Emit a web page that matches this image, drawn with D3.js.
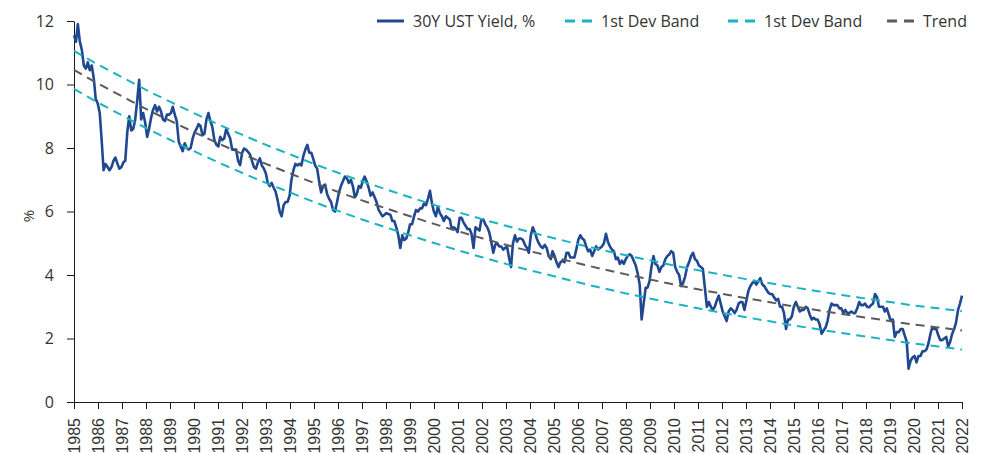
<!DOCTYPE html>
<html>
<head>
<meta charset="utf-8">
<script src="https://cdn.jsdelivr.net/npm/d3@7"></script>
<style>
  body { margin: 0; background: #fff; }
  text { font-family: "Open Sans", sans-serif; }
</style>
</head>
<body>
<svg width="991" height="453"></svg>
<script>
// Monthly 30Y UST yield, Jan 1985 - Jun 2022
const yields = [
  // 1985
  11.55, 11.35, 11.9, 11.35, 11.1, 10.6, 10.5, 10.7, 10.45, 10.6, 10.2, 9.55,
  // 1986
  9.4, 9.1, 8.3, 7.3, 7.5, 7.4, 7.3, 7.4, 7.6, 7.7, 7.5, 7.35,
  // 1987
  7.4, 7.55, 7.6, 8.5, 9.0, 8.55, 8.6, 8.9, 9.5, 10.15, 8.9, 9.1,
  // 1988
  8.8, 8.35, 8.6, 8.95, 9.2, 9.35, 9.15, 9.3, 9.15, 8.9, 8.85, 9.05,
  // 1989
  9.05, 9.1, 9.3, 9.05, 8.85, 8.2, 8.05, 7.9, 8.15, 8.0, 7.95, 8.0,
  // 1990
  8.3, 8.5, 8.6, 8.75, 8.7, 8.4, 8.45, 8.9, 9.1, 8.85, 8.65, 8.25,
  // 1991
  8.1, 8.05, 8.35, 8.25, 8.3, 8.6, 8.45, 8.3, 7.95, 7.95, 7.95, 7.6,
  // 1992
  7.46, 7.85, 7.98, 7.95, 7.88, 7.8, 7.6, 7.4, 7.35, 7.55, 7.67, 7.45,
  // 1993
  7.35, 7.2, 6.9, 6.8, 6.9, 6.75, 6.62, 6.35, 6.0, 5.85, 6.2, 6.3,
  // 1994
  6.3, 6.5, 7.0, 7.3, 7.5, 7.45, 7.5, 7.45, 7.75, 7.95, 8.1, 7.85,
  // 1995
  7.85, 7.65, 7.45, 7.35, 6.95, 6.6, 6.8, 6.85, 6.55, 6.4, 6.3, 6.05,
  // 1996
  6.0, 6.3, 6.6, 6.8, 6.95, 7.1, 7.05, 6.9, 7.0, 6.8, 6.45, 6.55,
  // 1997
  6.8, 6.75, 6.95, 7.1, 6.95, 6.75, 6.5, 6.6, 6.45, 6.3, 6.05, 5.95,
  // 1998
  5.85, 5.9, 5.95, 5.92, 5.9, 5.7, 5.7, 5.5, 5.25, 4.85, 5.25, 5.1,
  // 1999
  5.15, 5.35, 5.6, 5.6, 5.85, 6.05, 6.0, 6.1, 6.1, 6.25, 6.2, 6.4,
  // 2000
  6.65, 6.25, 6.0, 5.85, 6.15, 5.95, 5.85, 5.7, 5.85, 5.8, 5.75, 5.45,
  // 2001
  5.5, 5.45, 5.35, 5.8, 5.8, 5.65, 5.55, 5.45, 5.45, 5.3, 4.85, 5.5,
  // 2002
  5.45, 5.4, 5.75, 5.75, 5.6, 5.5, 5.35, 5.05, 4.7, 4.95, 5.0, 4.9,
  // 2003
  4.9, 4.8, 4.85, 4.9, 4.55, 4.25, 5.0, 5.25, 5.05, 5.15, 5.15, 5.1,
  // 2004
  4.95, 4.85, 4.7, 5.25, 5.5, 5.35, 5.15, 5.0, 4.9, 4.85, 4.95, 4.85,
  // 2005
  4.6, 4.5, 4.75, 4.6, 4.4, 4.25, 4.4, 4.45, 4.4, 4.7, 4.7, 4.55,
  // 2006
  4.55, 4.55, 4.8, 5.1, 5.25, 5.15, 5.1, 4.9, 4.75, 4.8, 4.6, 4.75,
  // 2007
  4.9, 4.8, 4.85, 4.9, 5.0, 5.3, 5.05, 4.9, 4.8, 4.75, 4.5, 4.55,
  // 2008
  4.35, 4.45, 4.35, 4.5, 4.6, 4.65, 4.6, 4.45, 4.3, 4.05, 3.7, 2.6,
  // 2009
  3.1, 3.6, 3.6, 3.8, 4.25, 4.6, 4.35, 4.3, 4.1, 4.25, 4.3, 4.5,
  // 2010
  4.6, 4.65, 4.75, 4.7, 4.25, 4.1, 4.0, 3.65, 3.75, 3.95, 4.25, 4.4,
  // 2011
  4.6, 4.7, 4.5, 4.45, 4.3, 4.25, 4.2, 3.6, 3.0, 3.15, 3.0, 2.9,
  // 2012
  3.0, 3.2, 3.35, 3.1, 2.85, 2.7, 2.55, 2.85, 2.95, 2.9, 2.8, 2.9,
  // 2013
  3.1, 3.15, 3.15, 2.9, 3.2, 3.5, 3.65, 3.75, 3.8, 3.7, 3.8, 3.9,
  // 2014
  3.7, 3.65, 3.55, 3.45, 3.4, 3.4, 3.3, 3.2, 3.25, 3.0, 3.0, 2.8,
  // 2015
  2.3, 2.6, 2.6, 2.7, 3.0, 3.15, 3.0, 2.85, 2.9, 2.9, 3.0, 2.95,
  // 2016
  2.75, 2.6, 2.65, 2.6, 2.6, 2.45, 2.15, 2.25, 2.35, 2.55, 2.9, 3.1,
  // 2017
  3.05, 3.05, 3.05, 2.95, 2.95, 2.8, 2.9, 2.8, 2.8, 2.85, 2.8, 2.8,
  // 2018
  2.95, 3.15, 3.05, 3.05, 3.1, 3.0, 2.98, 3.05, 3.1, 3.4, 3.3, 3.0,
  // 2019
  3.0, 3.0, 2.85, 2.95, 2.75, 2.55, 2.6, 2.05, 2.2, 2.2, 2.3, 2.3,
  // 2020
  2.1, 1.9, 1.05, 1.3, 1.4, 1.45, 1.25, 1.45, 1.45, 1.6, 1.6, 1.65,
  // 2021
  1.85, 2.15, 2.35, 2.3, 2.3, 2.1, 1.95, 1.95, 2.0, 2.05, 1.75, 1.9,
  // 2022
  2.15, 2.3, 2.5, 2.9, 3.1, 3.35
];

const years = [1985, 1986, 1987, 1988, 1989, 1990, 1991, 1992, 1993, 1994,
  1995, 1996, 1997, 1998, 1999, 2000, 2001, 2002, 2003, 2004,
  2005, 2006, 2007, 2008, 2009, 2010, 2011, 2012, 2013, 2014,
  2015, 2016, 2017, 2018, 2019, 2020, 2021, 2022];

// Trend and deviation bands, one value per year label
const trend = [10.46, 10.03, 9.63, 9.23, 8.86, 8.50, 8.15, 7.82, 7.50, 7.20,
  6.90, 6.62, 6.35, 6.10, 5.85, 5.61, 5.38, 5.16, 4.95, 4.75,
  4.56, 4.37, 4.19, 4.02, 3.86, 3.70, 3.55, 3.41, 3.27, 3.14,
  3.01, 2.89, 2.77, 2.66, 2.55, 2.44, 2.35, 2.25];
const upperBand = [11.06, 10.63, 10.23, 9.83, 9.46, 9.10, 8.75, 8.42, 8.10, 7.80,
  7.50, 7.22, 6.95, 6.70, 6.45, 6.21, 5.98, 5.76, 5.55, 5.35,
  5.16, 4.97, 4.79, 4.62, 4.46, 4.30, 4.15, 4.01, 3.87, 3.74,
  3.61, 3.49, 3.37, 3.26, 3.15, 3.04, 2.95, 2.86];
const lowerBand = [9.86, 9.43, 9.03, 8.63, 8.26, 7.90, 7.55, 7.22, 6.90, 6.60,
  6.30, 6.02, 5.75, 5.50, 5.25, 5.01, 4.78, 4.56, 4.35, 4.15,
  3.96, 3.77, 3.59, 3.42, 3.26, 3.10, 2.95, 2.81, 2.67, 2.54,
  2.41, 2.29, 2.17, 2.06, 1.95, 1.84, 1.75, 1.65];

const yTicks = [0, 2, 4, 6, 8, 10, 12];
const legendNames = ["30Y UST Yield, %", "1st Dev Band", "1st Dev Band", "Trend"];

const NAVY = "#1f4890", CYAN = "#19b3c3", GREY = "#5b5b5b";

let svg = d3.select("svg");
const plotLeft = 74, plotRight = 962, plotTop = 21, plotBottom = 402;

// monthly dates for the series
let dates = yields.map((v, i) => new Date(1985, i, 1));

let x = d3.scaleTime()
  .domain(d3.extent(dates))
  .range([plotLeft, plotRight]);

let xYear = d3.scalePoint()
  .domain(years)
  .range([plotLeft, plotRight]);

let y = d3.scaleLinear()
  .domain([0, 12])
  .range([plotBottom, plotTop]);

// Axes
let yAxis = svg.append("g")
  .attr("transform", `translate(${plotLeft},0)`)
  .call(d3.axisLeft(y).tickValues(yTicks).tickSize(7).tickSizeOuter(0).tickPadding(13));
yAxis.selectAll("text").attr("font-size", 16).attr("fill", "#333")
  .style("font-family", "'Open Sans', sans-serif");
yAxis.selectAll("line,path").attr("stroke", "#1a1a1a");

let xAxis = svg.append("g")
  .attr("transform", `translate(0,${plotBottom})`)
  .call(d3.axisBottom(xYear).tickSize(7).tickSizeOuter(0));
xAxis.selectAll("line,path").attr("stroke", "#1a1a1a");
xAxis.selectAll("text")
  .attr("font-size", 16)
  .attr("fill", "#333")
  .attr("transform", "rotate(-90)")
  .attr("text-anchor", "end")
  .attr("x", -16)
  .attr("y", 0)
  .attr("dy", "0.35em")
  .style("font-family", "'Liberation Sans', Arial, sans-serif");

svg.append("text")
  .attr("transform", "translate(34,216) rotate(-90)")
  .attr("text-anchor", "middle")
  .attr("font-size", 15)
  .attr("fill", "#333")
  .text("%");

// Series
let line = d3.line()
  .x((d, i) => x(dates[i]))
  .y(d => y(d));

svg.append("path")
  .datum(yields)
  .attr("fill", "none")
  .attr("stroke", NAVY)
  .attr("stroke-width", 2.6)
  .attr("stroke-linejoin", "round")
  .attr("d", line);

// Bands and trend
let bandLine = d3.line()
  .x((d, i) => xYear(years[i]))
  .y(d => y(d))
  .curve(d3.curveMonotoneX);

[[upperBand, CYAN], [lowerBand, CYAN], [trend, GREY]].forEach(([vals, col]) => {
  svg.append("path")
    .datum(vals)
    .attr("fill", "none")
    .attr("stroke", col)
    .attr("stroke-width", 2)
    .attr("stroke-dasharray", "9,6")
    .attr("d", bandLine);
});

// Legend
const legendStyle = [
  { color: NAVY, dash: null, w: 3 },
  { color: CYAN, dash: "10,7", w: 3 },
  { color: CYAN, dash: "10,7", w: 3 },
  { color: GREY, dash: "10,7", w: 3 }
];
const legendX = [377, 565, 728, 887];
const ly = 21;

let lg = svg.append("g");
legendNames.forEach((name, i) => {
  const st = legendStyle[i];
  lg.append("line")
    .attr("x1", legendX[i]).attr("x2", legendX[i] + 27)
    .attr("y1", ly).attr("y2", ly)
    .attr("stroke", st.color)
    .attr("stroke-width", st.w)
    .attr("stroke-dasharray", st.dash);
  lg.append("text")
    .attr("x", legendX[i] + 36)
    .attr("y", ly)
    .attr("dy", "0.35em")
    .attr("font-size", 16)
    .attr("fill", "#333")
    .text(name);
});
</script>
</body>
</html>
